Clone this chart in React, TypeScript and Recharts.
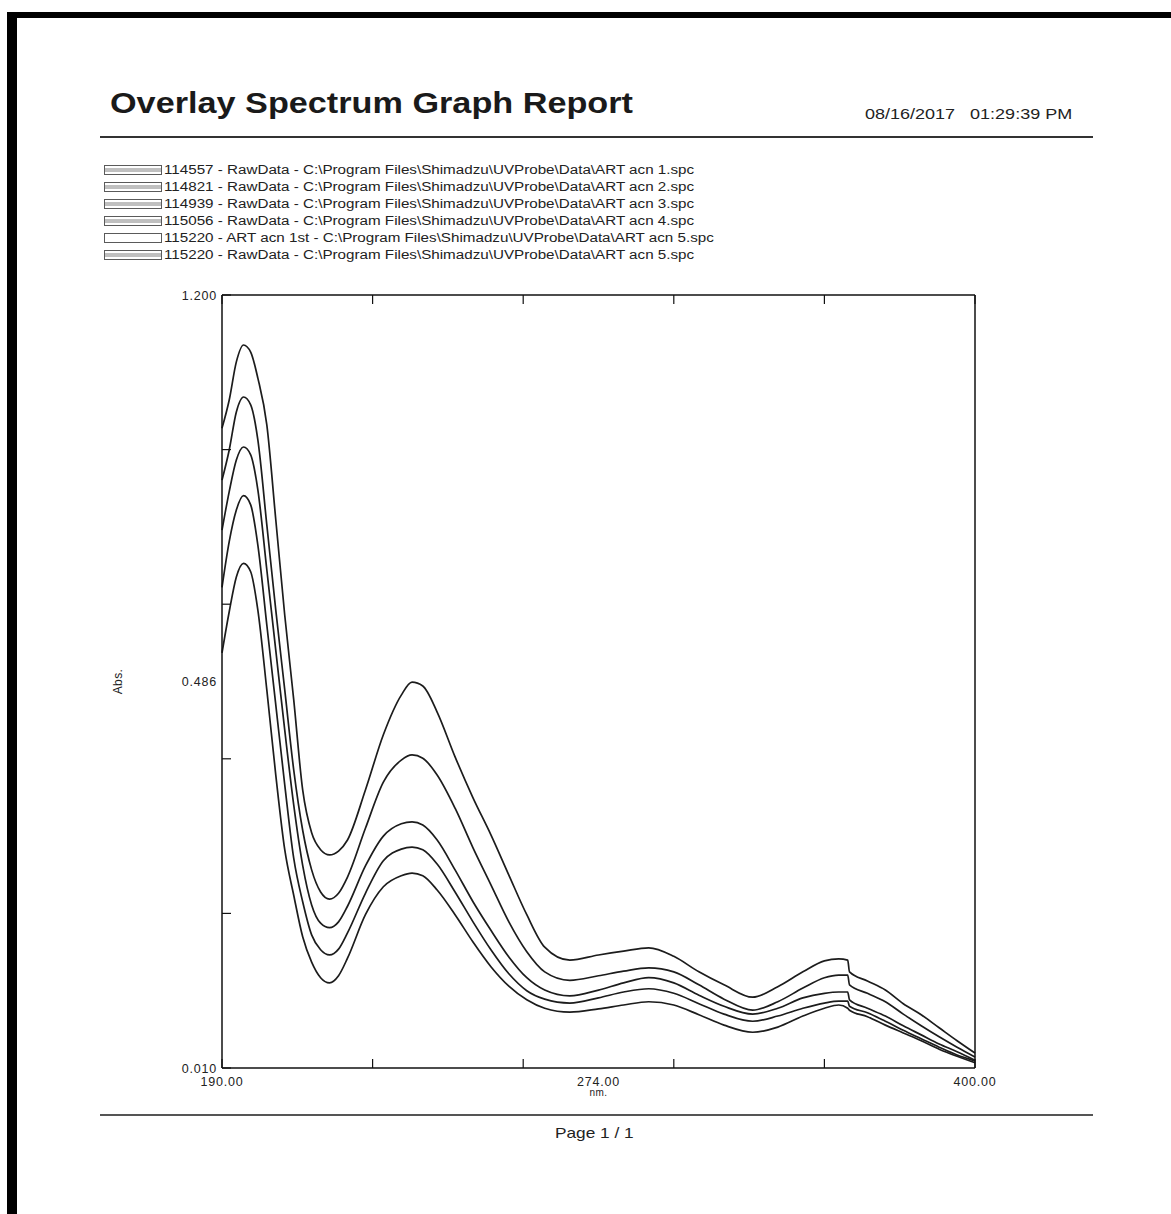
import { LineChart, Line, XAxis, YAxis, Label } from 'recharts'

// wavelength grid (nm) shared by all scans
const wavelengths = [
  190, 192, 194, 196, 198, 200, 202.5, 205, 207.5, 210, 212.5, 215, 217.5, 220, 222.5, 225,
  230, 235, 240, 243, 246, 250, 255, 260, 265, 270, 275, 280,
  287, 295, 302, 309, 316, 323, 330, 338, 345, 352, 358, 362,
  364.5, 365, 370, 375, 380, 385, 390, 395, 400,
]

const absAcn1 = [
  0.995, 1.038, 1.097, 1.123, 1.112, 1.072, 1.0, 0.854, 0.707, 0.577, 0.438, 0.372, 0.346, 0.338, 0.344, 0.361,
  0.438, 0.523, 0.584, 0.604, 0.598, 0.558, 0.489, 0.426, 0.369, 0.307, 0.246, 0.196,
  0.176, 0.184, 0.19, 0.195, 0.182, 0.158, 0.138, 0.119, 0.135, 0.158, 0.175, 0.178,
  0.176, 0.158, 0.144, 0.13, 0.109, 0.092, 0.072, 0.052, 0.033,
]
const absAcn2 = [
  0.915, 0.961, 1.02, 1.043, 1.031, 0.977, 0.846, 0.715, 0.592, 0.469, 0.376, 0.315, 0.281, 0.27, 0.279, 0.304,
  0.379, 0.45, 0.484, 0.492, 0.487, 0.461, 0.41, 0.349, 0.292, 0.235, 0.189, 0.158,
  0.145, 0.152, 0.159, 0.164, 0.158, 0.138, 0.116, 0.099, 0.112, 0.133, 0.149, 0.153,
  0.153, 0.138, 0.125, 0.112, 0.093, 0.075, 0.058, 0.042, 0.027,
]
const absAcn3 = [
  0.838, 0.897, 0.946, 0.966, 0.954, 0.9, 0.777, 0.653, 0.53, 0.415, 0.322, 0.261, 0.233, 0.226, 0.235, 0.259,
  0.321, 0.367, 0.386, 0.389, 0.384, 0.361, 0.315, 0.266, 0.222, 0.181, 0.149, 0.13,
  0.121, 0.13, 0.141, 0.149, 0.141, 0.122, 0.105, 0.093, 0.102, 0.118, 0.125, 0.127,
  0.127, 0.115, 0.102, 0.09, 0.075, 0.061, 0.047, 0.035, 0.022,
]
const absAcn4 = [
  0.75, 0.82, 0.869, 0.891, 0.877, 0.815, 0.692, 0.569, 0.446, 0.333, 0.266, 0.215, 0.192, 0.184, 0.193, 0.218,
  0.279, 0.329, 0.347, 0.35, 0.346, 0.324, 0.281, 0.235, 0.192, 0.155, 0.129, 0.116,
  0.11, 0.118, 0.127, 0.132, 0.125, 0.109, 0.093, 0.082, 0.09, 0.102, 0.11, 0.113,
  0.113, 0.105, 0.095, 0.082, 0.068, 0.055, 0.042, 0.03, 0.021,
]
const absAcn5 = [
  0.649, 0.712, 0.766, 0.787, 0.774, 0.715, 0.592, 0.461, 0.346, 0.276, 0.212, 0.173, 0.149, 0.141, 0.152, 0.179,
  0.246, 0.289, 0.306, 0.31, 0.306, 0.284, 0.246, 0.204, 0.166, 0.136, 0.115, 0.102,
  0.096, 0.101, 0.107, 0.112, 0.107, 0.092, 0.076, 0.065, 0.073, 0.09, 0.102, 0.107,
  0.102, 0.099, 0.089, 0.076, 0.064, 0.052, 0.039, 0.028, 0.018,
]

const xTicks = [190, 232, 274, 316, 358, 400]
const yTicks = [0.01, 0.248, 0.486, 0.724, 0.962, 1.2]

const legendItems = [
  '114557 - RawData - C:\\Program Files\\Shimadzu\\UVProbe\\Data\\ART acn 1.spc',
  '114821 - RawData - C:\\Program Files\\Shimadzu\\UVProbe\\Data\\ART acn 2.spc',
  '114939 - RawData - C:\\Program Files\\Shimadzu\\UVProbe\\Data\\ART acn 3.spc',
  '115056 - RawData - C:\\Program Files\\Shimadzu\\UVProbe\\Data\\ART acn 4.spc',
  '115220 - ART acn 1st - C:\\Program Files\\Shimadzu\\UVProbe\\Data\\ART acn 5.spc',
  '115220 - RawData - C:\\Program Files\\Shimadzu\\UVProbe\\Data\\ART acn 5.spc',
]
// the derivative entry has no trace on this plot
const legendHasLine = [true, true, true, true, false, true]

const seriesKeys = ['acn1', 'acn2', 'acn3', 'acn4', 'acn5']
const seriesValues = [absAcn1, absAcn2, absAcn3, absAcn4, absAcn5]

const data = wavelengths.map((nm, i) => {
  const row: Record<string, number> = { nm }
  seriesKeys.forEach((k, s) => {
    row[k] = seriesValues[s][i]
  })
  return row
})

const FONT = '"Liberation Sans", Arial, sans-serif'
const AXIS = '#111'
const TRACE = '#1c1c1c'
const TICK_LEN = 9
const labelStyle = { fontFamily: FONT, fontSize: 12.5, fill: '#222', letterSpacing: 0.8 }

function LeftTick(props: any) {
  const { x, y, payload, index, visibleTicksCount } = props
  const edge = index === 0 || index === visibleTicksCount - 1
  return (
    <g>
      <line x1={x} x2={x + TICK_LEN} y1={y} y2={y} stroke={AXIS} strokeWidth={1.2} />
      {edge && (
        <text x={x - 5} y={y} dy={4.5} textAnchor="end" style={labelStyle}>
          {payload.value.toFixed(3)}
        </text>
      )}
    </g>
  )
}

function RightTick(props: any) {
  const { x, y } = props
  return <line x1={x - TICK_LEN} x2={x} y1={y} y2={y} stroke={AXIS} strokeWidth={1.2} />
}

function BottomTick(props: any) {
  const { x, y, payload, index, visibleTicksCount } = props
  const edge = index === 0 || index === visibleTicksCount - 1
  return (
    <g>
      <line x1={x} x2={x} y1={y} y2={y - TICK_LEN} stroke={AXIS} strokeWidth={1.2} />
      {edge && (
        <text x={x} y={y} dy={18} textAnchor="middle" style={labelStyle}>
          {payload.value.toFixed(2)}
        </text>
      )}
    </g>
  )
}

function TopTick(props: any) {
  const { x, y } = props
  return <line x1={x} x2={x} y1={y} y2={y + TICK_LEN} stroke={AXIS} strokeWidth={1.2} />
}

function Swatch({ filled }: { filled: boolean }) {
  return (
    <svg width={58} height={10} style={{ display: 'block' }}>
      <rect x={0.5} y={0.5} width={57} height={9} fill="#fff" stroke="#5a5a5a" strokeWidth={1} />
      {filled && (
        <>
          <line x1={1} x2={57} y1={4} y2={4} stroke="#808080" strokeWidth={1} />
          <line x1={1} x2={57} y1={6} y2={6} stroke="#808080" strokeWidth={1} />
        </>
      )}
    </svg>
  )
}

const stretch = (s: number) => ({
  display: 'inline-block',
  transform: `scaleX(${s})`,
  transformOrigin: 'left center',
  whiteSpace: 'pre' as const,
})

export default function App() {
  return (
    <div
      style={{
        position: 'absolute',
        left: 0,
        top: 0,
        width: 1171,
        height: 1214,
        background: '#fff',
        overflow: 'hidden',
        fontFamily: FONT,
        color: '#222',
      }}
    >
      {/* page frame */}
      <div style={{ position: 'absolute', left: 7, top: 12, width: 10, height: 1202, background: '#000' }} />
      <div style={{ position: 'absolute', left: 7, top: 12, width: 1164, height: 6, background: '#000' }} />

      {/* header */}
      <div style={{ position: 'absolute', left: 110, top: 89, fontSize: 29, lineHeight: '29px', fontWeight: 700, color: '#1a1a1a' }}>
        <span style={stretch(1.18)}>Overlay Spectrum Graph Report</span>
      </div>
      <div style={{ position: 'absolute', left: 865, top: 106, fontSize: 15, lineHeight: '15px', color: '#222' }}>
        <span style={stretch(1.2)}>{'08/16/2017   01:29:39 PM'}</span>
      </div>
      <div style={{ position: 'absolute', left: 100, top: 136, width: 993, height: 2, background: '#333' }} />

      {/* legend */}
      {legendItems.map((label, i) => (
        <div
          key={label}
          style={{ position: 'absolute', left: 104, top: 165 + i * 17, height: 10, display: 'flex', alignItems: 'center' }}
        >
          <Swatch filled={legendHasLine[i]} />
          <div style={{ marginLeft: 2, fontSize: 12.5, lineHeight: '10px', color: '#222' }}>
            <span style={stretch(1.215)}>{label}</span>
          </div>
        </div>
      ))}

      {/* spectrum plot */}
      <div style={{ position: 'absolute', left: 100, top: 260 }}>
        <LineChart width={1000} height={860} data={data} margin={{ top: 25, right: 115, bottom: 0, left: 0 }}>
          <XAxis
            xAxisId="bottom"
            dataKey="nm"
            type="number"
            domain={[190, 400]}
            ticks={xTicks}
            height={52}
            tickSize={0}
            tickMargin={0}
            tickLine={false}
            tick={<BottomTick />}
            axisLine={{ stroke: AXIS, strokeWidth: 1.5 }}
            interval={0}
          >
            <Label value="274.00" position="insideTop" offset={9} style={labelStyle} />
            <Label value="nm." position="insideTop" offset={21} style={{ ...labelStyle, fontSize: 10, letterSpacing: 0.4 }} />
          </XAxis>
          <XAxis
            xAxisId="top"
            orientation="top"
            dataKey="nm"
            type="number"
            domain={[190, 400]}
            ticks={xTicks}
            height={10}
            tickSize={0}
            tickMargin={0}
            tickLine={false}
            tick={<TopTick />}
            axisLine={{ stroke: AXIS, strokeWidth: 1.5 }}
            interval={0}
          />
          <YAxis
            yAxisId="left"
            type="number"
            domain={[0.01, 1.2]}
            ticks={yTicks}
            width={122}
            tickSize={0}
            tickMargin={0}
            tickLine={false}
            tick={<LeftTick />}
            axisLine={{ stroke: AXIS, strokeWidth: 1.5 }}
            interval={0}
          >
            <Label value="0.486" position="insideRight" offset={5} style={labelStyle} />
            <Label
              content={({ viewBox }: any) => {
                const cx = viewBox.x + 18
                const cy = viewBox.y + viewBox.height / 2
                return (
                  <text
                    x={cx}
                    y={cy}
                    dy={4}
                    textAnchor="middle"
                    transform={`rotate(-90 ${cx} ${cy})`}
                    style={{ ...labelStyle, fontSize: 12, letterSpacing: 0.4 }}
                  >
                    Abs.
                  </text>
                )
              }}
            />
          </YAxis>
          <YAxis
            yAxisId="right"
            orientation="right"
            type="number"
            domain={[0.01, 1.2]}
            ticks={yTicks}
            width={10}
            tickSize={0}
            tickMargin={0}
            tickLine={false}
            tick={<RightTick />}
            axisLine={{ stroke: AXIS, strokeWidth: 1.5 }}
            interval={0}
          />
          {seriesKeys.map((k, i) => (
            <Line
              key={k}
              xAxisId="bottom"
              yAxisId="left"
              dataKey={k}
              name={legendItems[i < 4 ? i : 5]}
              type="monotone"
              stroke={TRACE}
              strokeWidth={1.7}
              dot={false}
              isAnimationActive={false}
            />
          ))}
        </LineChart>
      </div>

      {/* footer */}
      <div style={{ position: 'absolute', left: 100, top: 1114, width: 993, height: 2, background: '#555' }} />
      <div style={{ position: 'absolute', left: 555, top: 1125, fontSize: 15, lineHeight: '15px', color: '#222' }}>
        <span style={stretch(1.15)}>Page 1 / 1</span>
      </div>
    </div>
  )
}
